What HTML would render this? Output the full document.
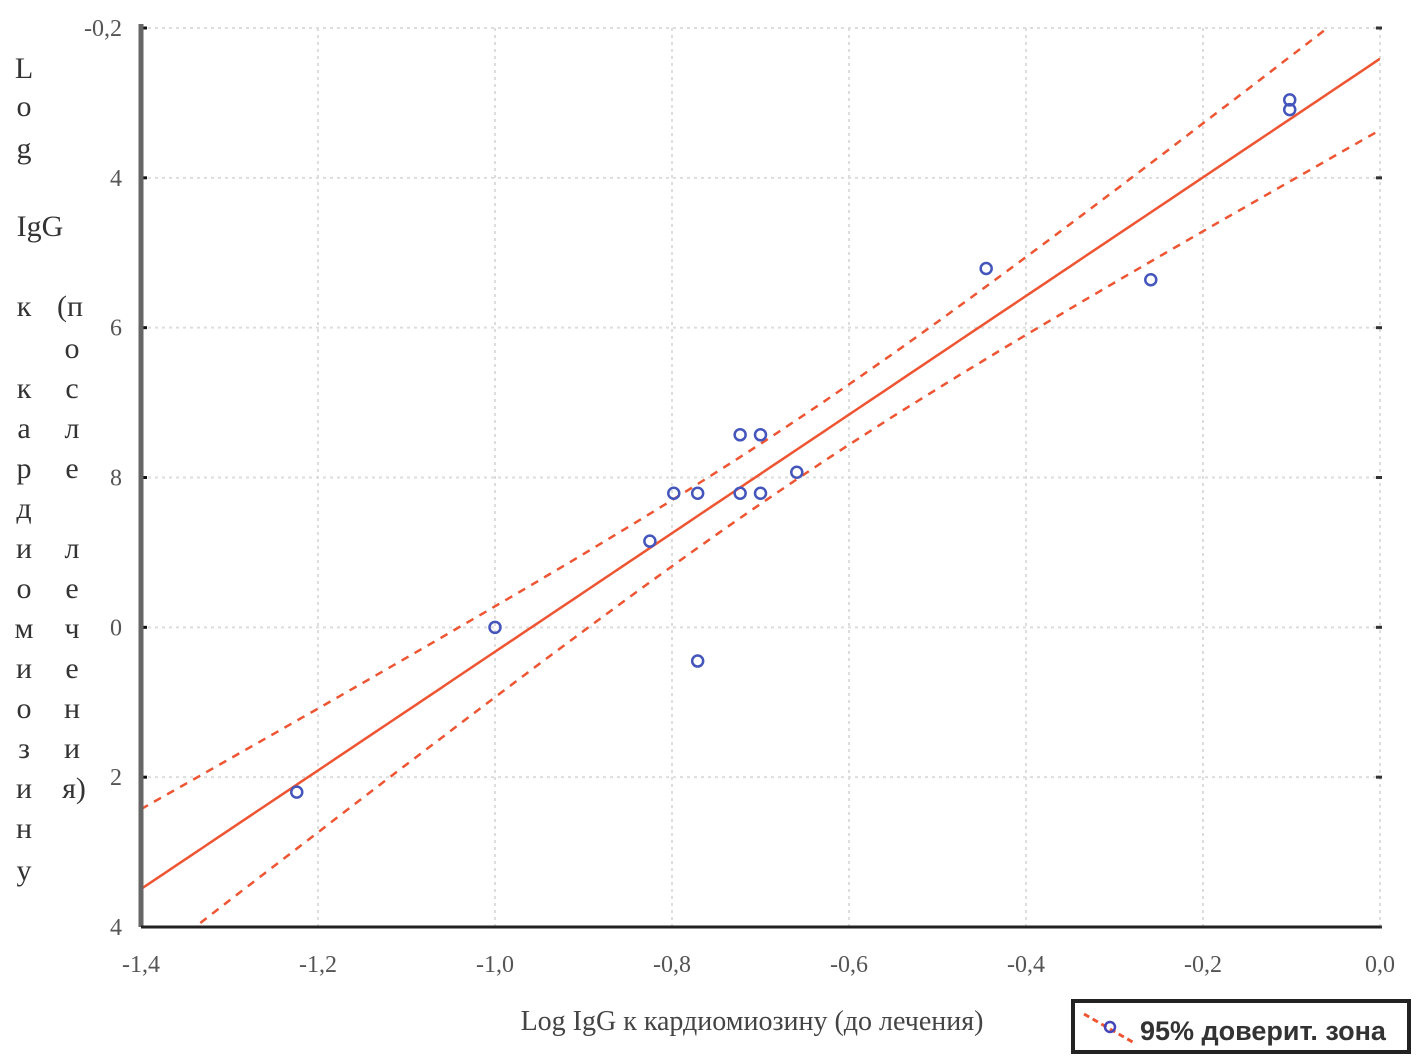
<!DOCTYPE html>
<html><head><meta charset="utf-8"><style>
html,body{margin:0;padding:0;background:#fff;}
svg{display:block;font-family:"Liberation Serif","DejaVu Serif",serif;}
</style></head><body>
<svg id="chart" width="1417" height="1058" viewBox="0 0 1417 1058">
<g id="grid"></g>
<g id="bands"></g>
<g id="pts"></g>
<g id="axes"></g>
<g font-size="30" fill="#333" text-anchor="middle">
<text x="24" y="78">L</text><text x="24" y="116">o</text><text x="24" y="158">g</text>
<text x="40" y="236">IgG</text>
<text x="24" y="316">к</text><text x="24" y="398">к</text><text x="24" y="438">а</text><text x="24" y="478">р</text><text x="24" y="518">д</text><text x="24" y="558">и</text><text x="24" y="598">о</text><text x="24" y="638">м</text><text x="24" y="678">и</text><text x="24" y="718">о</text><text x="24" y="758">з</text><text x="24" y="798">и</text><text x="24" y="838">н</text><text x="24" y="880">у</text>
<text x="70" y="316">(п</text><text x="72" y="358">о</text><text x="72" y="398">с</text><text x="72" y="438">л</text><text x="72" y="478">е</text><text x="72" y="558">л</text><text x="72" y="598">е</text><text x="72" y="638">ч</text><text x="72" y="678">е</text><text x="72" y="718">н</text><text x="72" y="758">и</text><text x="74" y="798">я)</text>
</g>
<text x="752" y="1030" text-anchor="middle" font-size="28" fill="#444">Log IgG к кардиомиозину (до лечения)</text>
<g>
<rect x="1073" y="1001" width="336" height="51" fill="#fff" stroke="#222" stroke-width="4"/>
<line x1="1084" y1="1014" x2="1136" y2="1044" stroke="#ee5533" stroke-width="3" stroke-dasharray="6,4"/>
<circle cx="1110" cy="1027" r="5" fill="none" stroke="#4444bb" stroke-width="2.5"/>
<text x="1140" y="1040" font-family="Liberation Sans, sans-serif" font-weight="bold" font-size="27" fill="#333">95% доверит. зона</text>
</g>
</svg>
<script>
const xVals=[-1.224,-1.0,-0.825,-0.798,-0.771,-0.723,-0.70,-0.723,-0.70,-0.659,-0.771,-0.445,-0.259,-0.102,-0.102];
const yVals=[-1.22,-1.0,-0.885,-0.821,-0.821,-0.821,-0.821,-0.743,-0.743,-0.793,-1.045,-0.521,-0.536,-0.296,-0.309];
const xTicks=[-1.4,-1.2,-1.0,-0.8,-0.6,-0.4,-0.2,0.0];
const xTickLabels=["-1,4","-1,2","-1,0","-0,8","-0,6","-0,4","-0,2","0,0"];
const yTicks=[-0.2,-0.4,-0.6,-0.8,-1.0,-1.2,-1.4];
const yTickLabels=["-0,2","4","6","8","0","2","4"];
const NS="http://www.w3.org/2000/svg";
const L=141,R=1380,T=28,B=927;
const X0=-1.4,X1=0,Y0=-1.4,Y1=-0.2;
const sx=v=>L+(v-X0)/(X1-X0)*(R-L);
const sy=v=>B-(v-Y0)/(Y1-Y0)*(B-T);
function mk(tag,parent,attrs){const e=document.createElementNS(NS,tag);for(const k in attrs)e.setAttribute(k,attrs[k]);document.getElementById(parent).appendChild(e);return e;}
// grid
xTicks.forEach((t,i)=>{
 const g=mk('line','grid',{x1:sx(t),x2:sx(t),y1:T,y2:B,stroke:'#ddd','stroke-width':2,'stroke-dasharray':'3,4'});
 
 
 const tx=mk('text','axes',{x:sx(t),y:972,'text-anchor':'middle','font-size':24,fill:'#555'});
 tx.textContent=xTickLabels[i];
 
 
});
yTicks.forEach((t,i)=>{
 const g=mk('line','grid',{x1:L,x2:R,y1:sy(t),y2:sy(t),stroke:'#ddd','stroke-width':2,'stroke-dasharray':'3,4'});
 
 
 const tk=mk('line','axes',{x1:R-4,x2:R+2,y1:sy(t),y2:sy(t),stroke:'#333','stroke-width':3});
 
 
 const tk2=mk('line','axes',{x1:L,x2:L+6,y1:sy(t),y2:sy(t),stroke:'#111','stroke-width':3});
 
 
 const tx=mk('text','axes',{x:122,y:sy(t)+8,'text-anchor':'end','font-size':24,fill:'#555'});
 tx.textContent=yTickLabels[i];
 
 
});
const ya=mk('line','axes',{x1:L,x2:L,y1:T-4,y2:B,stroke:'#666','stroke-width':5});


const xa=mk('line','axes',{x1:L,x2:R,y1:B,y2:B,stroke:'#222','stroke-width':3});


// regression
const n=xVals.length;
const mx=xVals.reduce((a,b)=>a+b)/n, my=yVals.reduce((a,b)=>a+b)/n;
let sxx=0,sxy=0;for(let i=0;i<n;i++){sxx+=(xVals[i]-mx)**2;sxy+=(xVals[i]-mx)*(yVals[i]-my);}
const b=sxy/sxx,a=my-b*mx;
let sse=0;for(let i=0;i<n;i++)sse+=(yVals[i]-a-b*xVals[i])**2;
const s=Math.sqrt(sse/(n-2)),tq=2.16;
const clip=mk('clipPath','bands',{id:'clipArea'});
const cr=document.createElementNS(NS,'rect');cr.setAttribute('x',L);cr.setAttribute('y',T);cr.setAttribute('width',R-L);cr.setAttribute('height',B-T);clip.appendChild(cr);
function path(fn,dash,name){
 let d='';for(let k=0;k<=100;k++){const x=X0+(X1-X0)*k/100;d+=(k?'L':'M')+sx(x).toFixed(1)+','+sy(fn(x)).toFixed(1);}
 const p=mk('path','bands',{d:d,fill:'none',stroke:'#ee5533','stroke-width':2.5,'clip-path':'url(#clipArea)'});
 if(dash)p.setAttribute('stroke-dasharray','8,7');
 
 
}
const se=x=>s*Math.sqrt(1/n+(x-mx)**2/sxx);
path(x=>a+b*x,false,'regression-line');
path(x=>a+b*x+tq*se(x),true,'upper-confidence-band');
path(x=>a+b*x-tq*se(x),true,'lower-confidence-band');
for(let i=0;i<n;i++){
 const c=mk('circle','pts',{cx:sx(xVals[i]),cy:sy(yVals[i]),r:5.5,fill:'none',stroke:'#4455bb','stroke-width':2.5});
 
 
}
</script>
</body></html>
